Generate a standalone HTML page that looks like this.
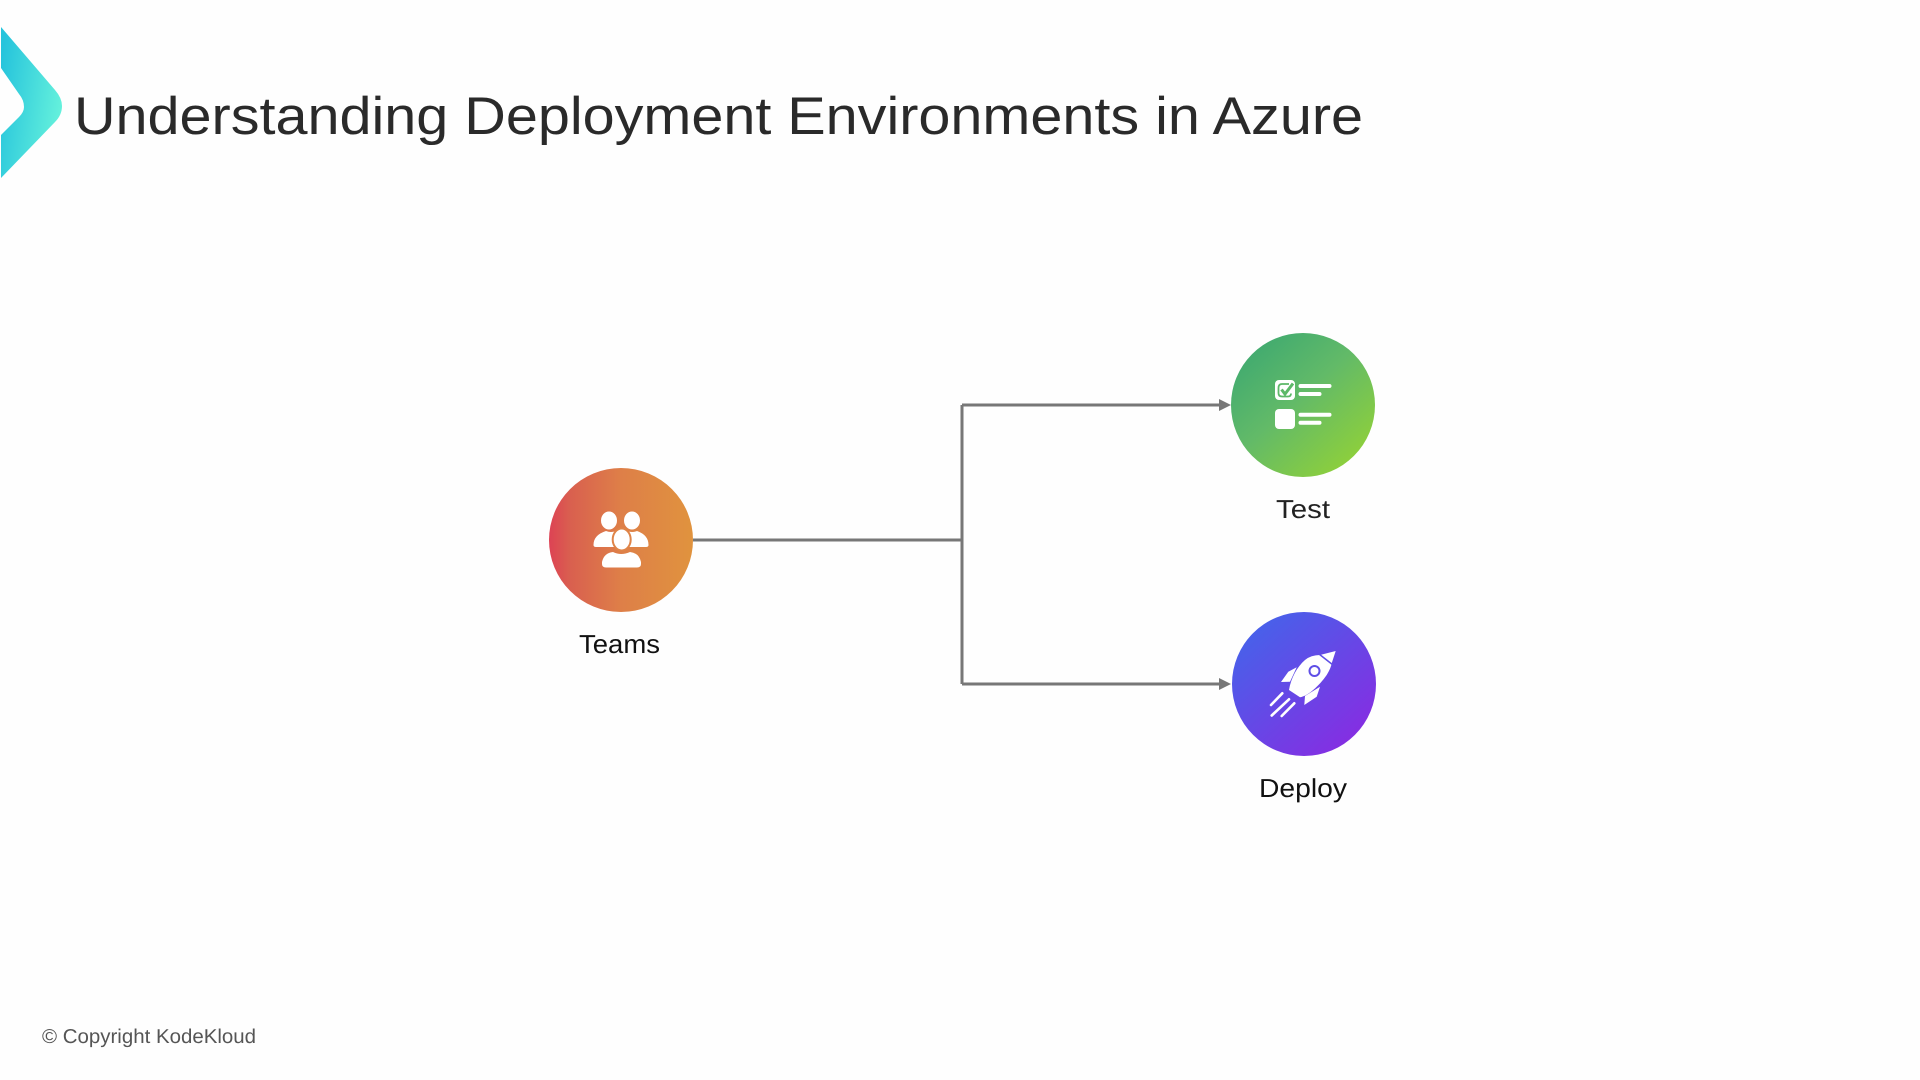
<!DOCTYPE html>
<html><head><meta charset="utf-8"><style>
html,body{margin:0;padding:0;background:#fefefe;width:1920px;height:1080px;overflow:hidden}
svg{display:block}
text{font-family:"Liberation Sans",sans-serif;text-rendering:geometricPrecision}
</style></head><body>
<svg width="1920" height="1080" viewBox="0 0 1920 1080" xmlns="http://www.w3.org/2000/svg">
<defs>
<linearGradient id="c" x1="0" y1="0.25" x2="1" y2="0.6"><stop offset="0" stop-color="#26c4dc"/><stop offset="1" stop-color="#66f2dc"/></linearGradient>
<linearGradient id="t"><stop offset="0" stop-color="#dd4254"/><stop offset="0.15" stop-color="#d9604f"/><stop offset="0.5" stop-color="#de7f48"/><stop offset="1" stop-color="#e0933e"/></linearGradient>
<linearGradient id="g" x1="0.12" y1="0.1" x2="0.85" y2="0.92"><stop offset="0" stop-color="#40aa70"/><stop offset="0.45" stop-color="#62ba68"/><stop offset="1" stop-color="#8fd03a"/></linearGradient>
<linearGradient id="p" x1="0.12" y1="0.1" x2="0.85" y2="0.92"><stop offset="0" stop-color="#4662ea"/><stop offset="1" stop-color="#862de2"/></linearGradient>
</defs>
<rect width="1920" height="1080" fill="#fefefe"/>
<path d="M1 27L55 90Q62 98 62 106Q62 115 55 122L1 178V135L19 117Q24 112 24 107Q24 100 19 94L1 68Z" fill="url(#c)"/>
<text x="74" y="134" font-size="53" fill="#2a2a2a" textLength="1289" lengthAdjust="spacingAndGlyphs">Understanding Deployment Environments in Azure</text>

<path d="M693 540H962M962 405V684M962 405H1221M962 684H1221" fill="none" stroke="#777" stroke-width="3"/>
<path d="M1219 399L1231 405L1219 411Z M1219 678L1231 684L1219 690Z" fill="#777"/>

<circle cx="621" cy="540" r="72" fill="url(#t)"/>
<g fill="#fff">
<ellipse cx="609" cy="520.500" rx="8" ry="9"/><ellipse cx="632" cy="520.500" rx="8" ry="9"/>
<path d="M593.500 545Q593.500 535 606 531Q611 533 616 531L622 535L627 531Q632 533 637 531Q648.500 535 648.500 545Q648.500 547 646 547H596Q593.500 547 593.500 545Z"/>
<ellipse cx="621.700" cy="539.500" rx="9" ry="11" stroke="#df8448" stroke-width="2"/>
<path d="M602 564V562Q604 553 613 552Q621 556 630 552Q639 553 641 562V564Q641 567.500 637 567.500H606Q602 567.500 602 564Z"/>
</g>
<text x="579" y="653" font-size="26" fill="#111" textLength="81" lengthAdjust="spacingAndGlyphs">Teams</text>

<circle cx="1303" cy="405" r="72" fill="url(#g)"/>
<rect x="1275" y="380" width="20" height="20" rx="4" fill="#fff"/>
<rect x="1275" y="409" width="20" height="20" rx="4" fill="#fff"/>
<path d="M1289 384H1282Q1278.500 384 1278.500 388V393Q1278.500 396.500 1282 396.500H1288Q1291 396.500 1291 393.500" fill="none" stroke="#5cb868" stroke-width="1.800"/>
<path d="M1281.500 389.500L1285 394L1293 383.500" fill="none" stroke="#5cb868" stroke-width="3"/>
<path d="M1300.500 386H1329.500M1300.500 394H1319.500M1300.500 414.700H1329.500M1300.500 422.700H1319.500" stroke="#fff" stroke-width="4" stroke-linecap="round"/>
<text x="1276" y="518" font-size="26" fill="#222" textLength="54" lengthAdjust="spacingAndGlyphs">Test</text>

<circle cx="1304" cy="684" r="72" fill="url(#p)"/>
<path d="M1335.700 651L1320 655Q1311 655 1305 660C1297 667 1291 678 1289 690L1300 697.300C1308 696 1319 686 1326.700 675Q1331 668 1331.700 663.300Z" fill="#fff"/>
<path d="M1319 654L1333 665" stroke="#5f4fe6" stroke-width="1.500" fill="none"/>
<circle cx="1314.500" cy="671" r="5" fill="#fff" stroke="#5f4fe6" stroke-width="2"/>
<path d="M1281 682L1288.300 671.700L1296.700 667.300L1290 681.700Z M1304.300 705L1305 696L1320 686.700L1316.700 696.700Z" fill="#fff"/>
<path d="M1271 705L1282.300 693.300M1271.700 715.500L1289 699.300M1281.700 716L1294.300 703.300" stroke="#fff" stroke-width="2.600" stroke-linecap="round"/>
<text x="1259" y="797" font-size="26" fill="#111" textLength="88" lengthAdjust="spacingAndGlyphs">Deploy</text>

<text x="42" y="1043" font-size="20" fill="#555" textLength="214" lengthAdjust="spacingAndGlyphs">© Copyright KodeKloud</text>
</svg>
</body></html>
